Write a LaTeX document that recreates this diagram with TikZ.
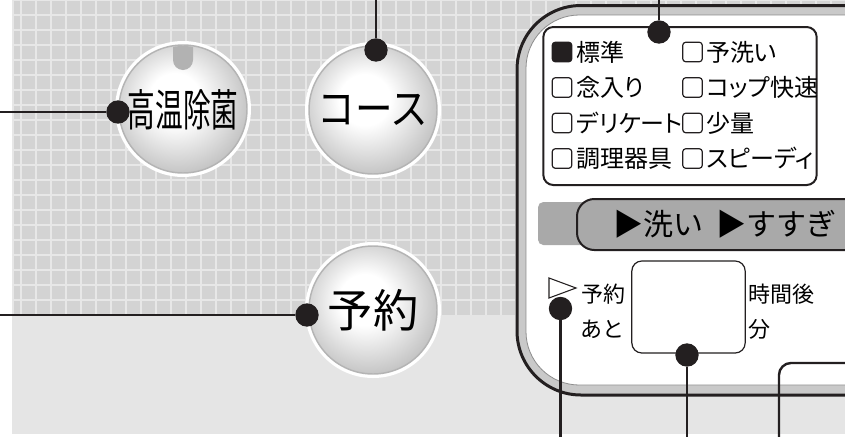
\documentclass[tikz,border=0pt]{standalone}
\usepackage{fontspec}
\setmainfont{Noto Sans CJK JP}
\newfontfamily\menufont[RawFeature=+palt]{Noto Sans CJK JP}
\usepackage{tikz}
\usepackage{xcolor}

\definecolor{ink}{HTML}{231F20}
\definecolor{gridsq}{HTML}{D3D3D3}
\definecolor{gridln}{HTML}{E7E7E7}
\definecolor{lowbg}{HTML}{E5E5E5}
\definecolor{panelband}{HTML}{C9C9C9}
\definecolor{bandgray}{HTML}{A9A9A9}
\definecolor{knobedge}{HTML}{C6C6C6}
\definecolor{knobrim}{HTML}{B4B4B4}
\definecolor{notchgray}{HTML}{B2B2B2}

\pgfdeclareradialshading{knobshade}{\pgfpoint{-4bp}{5bp}}{color(0bp)=(white); color(10bp)=(white); color(27bp)=(knobedge); color(50bp)=(knobedge)}

\begin{document}
\begin{tikzpicture}[x=0.75pt, y=-0.75pt,
    knob/.style={circle, minimum size=96pt, inner sep=0pt, shading=knobshade,
        draw=knobrim, line width=1.1pt, preaction={draw=white, line width=6pt}},
    dot/.style={circle, fill=ink, minimum size=17.5pt, inner sep=0pt},
    lead/.style={ink, line width=1.8pt},
    chk/.style={draw=ink, line width=0.9pt, rounded corners=2pt, minimum size=14.5pt, inner sep=0pt},
    item/.style={anchor=west, inner sep=0pt, font=\menufont\fontsize{18}{18}\selectfont},
    lbl/.style={anchor=west, inner sep=0pt, font=\menufont\fontsize{16.5}{16.5}\selectfont}]
\useasboundingbox (0,0) rectangle (845,436);
\clip (0,0) rectangle (845,436);

% Background and grid
\fill[white] (0,0) rectangle (845,436);
\fill[lowbg] (12,0) rectangle (845,434);
\fill[gridsq] (12,0) rectangle (845,315);
\foreach \gx in {13,21,36,...,846}
    \draw[gridln, line width=1.5pt] (\gx,0) -- (\gx,315);
\foreach \gy in {0,15,...,300}
    \draw[gridln, line width=1.5pt] (12,\gy) -- (845,\gy);

% Buttons
\node[knob] (kouon) at (183,109) {};
\begin{scope}
    \clip (kouon.center) circle[radius=63];
    \fill[notchgray] (173,30) -- (173,60) arc[start angle=180, end angle=0, radius=10] -- (193,30) -- cycle;
\end{scope}
\node[font=\fontsize{33}{33}\selectfont] at (183,110) {\scalebox{0.63}[1]{高温除菌}};
\node[knob, font=\fontsize{32}{32}\selectfont] (course) at (373,110) {\scalebox{0.88}[1]{コース}};
\node[knob, font=\fontsize{34}{34}\selectfont] (yoyaku) at (373,310) {予約};

% Control panel
\draw[ink, line width=2.25pt, fill=panelband, rounded corners=48pt]
    (870,5.5) -- (517,5.5) -- (517,395) -- (870,395);
\draw[black!45, line width=0.6pt, fill=white, rounded corners=40pt]
    (870,15) -- (526,15) -- (526,385) -- (870,385);

% Course menu
\node[draw=ink, line width=1.5pt, rounded corners=7.5pt, minimum width=205pt,
    minimum height=118.5pt, inner sep=0pt] (menu) at (680,106) {};
\node[chk, fill=ink] (c1) at (562,52) {};
\node[chk] (c2) at (562,87.5) {};
\node[chk] (c3) at (562,123) {};
\node[chk] (c4) at (562,158.5) {};
\node[chk] (c5) at (692.5,52) {};
\node[chk] (c6) at (692.5,87.5) {};
\node[chk] (c7) at (692.5,123) {};
\node[chk] (c8) at (692.5,158.5) {};
\node[item] (m1) at (576,52) {標準};
\node[item] (m2) at (576,87.5) {念入り};
\node[item] (m3) at (576,123) {デリケート};
\node[item] (m4) at (576,158.5) {調理器具};
\node[item] (m5) at (706,52) {予洗い};
\node[item] (m6) at (706,87.5) {コップ快速};
\node[item] (m7) at (706,123) {少量};
\node[item] (m8) at (706,158.5) {スピーディ};

% Progress bar
\fill[bandgray, rounded corners=4pt] (538,202) rectangle (860,245);
\draw[ink, line width=1.5pt, fill=bandgray, rounded corners=13pt] (577,199) rectangle (880,250);
\node[anchor=west, inner sep=0pt, font=\fontsize{22.5}{22.5}\selectfont] (steps) at (613,224) {▶洗い\hspace{0.45em}▶すすぎ};

% Timer
\draw[ink, line width=0.8pt, fill=white] (549,278) -- (576,288) -- (549,298) -- cycle;
\node[lbl] (tyoyaku) at (581,294) {予約};
\node[lbl] (tato) at (581,329) {あと};
\node[draw=ink, line width=0.9pt, rounded corners=7.5pt, minimum width=85pt,
    minimum height=69pt, inner sep=0pt] (timebox) at (688.5,307) {};
\node[lbl] (tgo) at (748,294) {時間後};
\node[lbl] (tfun) at (748,329) {分};
\draw[ink, line width=1.8pt, rounded corners=9pt] (779,440) -- (779,363) -- (860,363);

% Leaders
\node[dot] (d1) at (118,112) {};
\node[dot] (d2) at (376,50) {};
\node[dot] (d3) at (307,315) {};
\node[dot] (d4) at (659,32) {};
\node[dot] (d5) at (560.5,308.5) {};
\node[dot] (d6) at (687,355) {};
\coordinate (e1) at (0,112);
\coordinate (e2) at (376,0);
\coordinate (e3) at (0,315);
\coordinate (e4) at (659,0);
\coordinate (e5) at (560.5,440);
\coordinate (e6) at (687,440);
\draw[lead] (e1) -- (d1);
\draw[lead] (e2) -- (d2);
\draw[lead] (e3) -- (d3);
\draw[lead] (e4) -- (d4);
\draw[lead] (e5) -- (d5);
\draw[lead] (e6) -- (d6);
\end{tikzpicture}
\end{document}
